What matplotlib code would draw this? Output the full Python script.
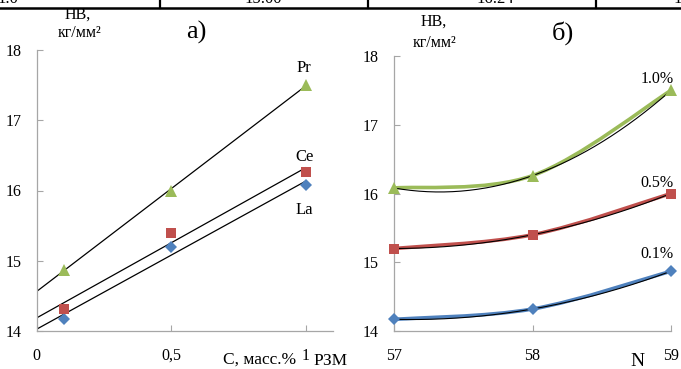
import numpy as np
import matplotlib
matplotlib.use("Agg")
import matplotlib.pyplot as plt
from matplotlib.path import Path
from matplotlib.patches import PathPatch

plt.rcParams['font.family'] = ['Liberation Serif', 'DejaVu Serif']

# Hardness HB (kg/mm^2) vs. rare-earth content, wt.%
conc = [0.1, 0.5, 1.0]
hb_la = [14.17, 15.20, 16.08]
hb_ce = [14.32, 15.40, 16.26]
hb_pr = [14.87, 16.00, 17.50]
elements = ["La", "Ce", "Pr"]

# Atomic number of the rare-earth element
atomic_n = [57, 58, 59]
conc_labels = ["0.1%", "0.5%", "1.0%"]

left_xticks = [0, 0.5, 1]
left_xticklabels = ["0", "0,5", "1"]
yticks = [14, 15, 16, 17, 18]

# Cells of the table row above the charts
table_cells = ["1.0", "15.00", "16.24", "1"]

BLUE, RED, GREEN = "#4F81BD", "#C0504D", "#9BBB59"
SPINE = "#a6a6a6"

W, H = 681, 369
fig = plt.figure(figsize=(W / 100, H / 100), dpi=100)


def fx(px):
    return px / W


def fy(py):
    return 1 - py / H


# table fragment at the top edge
fig.add_artist(plt.Line2D([0, 1], [fy(7.5), fy(7.5)], color="black", lw=1.8,
                          transform=fig.transFigure))
for xv in (159.5, 368, 595.5):
    fig.add_artist(plt.Line2D([fx(xv), fx(xv)], [fy(7.5), 1.0], color="black",
                              lw=1.6, transform=fig.transFigure))
for txt, xc in zip(table_cells, (8, 263, 495, 678)):
    fig.text(fx(xc), fy(3.0), txt, ha="center", va="baseline", fontsize=12)


def style_axes(ax):
    for s in ("top", "right"):
        ax.spines[s].set_visible(False)
    for s in ("left", "bottom"):
        ax.spines[s].set_color(SPINE)
        ax.spines[s].set_linewidth(0.9)
    ax.tick_params(direction="in", length=4, width=0.8, color=SPINE,
                   labelsize=11.5, pad=11)
    ax.set_ylim(14, 18)
    ax.set_yticks(yticks)
    ax.set_yticklabels([str(v) for v in yticks])


# ---- a) linear dependence on content ----
axL = fig.add_axes([fx(36.7), fy(331), fx(332.6) - fx(36.7), fy(50) - fy(331)])
style_axes(axL)
axL.set_xlim(0, 1.1)
axL.set_xticks(left_xticks)
axL.set_xticklabels(left_xticklabels)
axL.tick_params(axis="x", pad=12)

series = [(hb_la, BLUE, "D", 6.0), (hb_ce, RED, "s", 7.5), (hb_pr, GREEN, "^", 8.0)]
xfit = np.array([0.0, 1.0])
for vals, col, mk, ms in series:
    k, b = np.polyfit(conc, vals, 1)
    axL.plot(xfit, k * xfit + b, color="black", lw=0.9, zorder=2)
    axL.plot(conc, vals, ls="none", marker=mk, ms=ms, color=col,
             markeredgewidth=0, zorder=3, clip_on=False)

for name, yv in zip(elements, (15.72, 16.48, 17.74)):
    axL.text(0.995, yv, name, ha="center", va="center", fontsize=12)

fig.text(fx(296), fy(360), "С, масс.%", ha="right", va="center", fontsize=12.5)
fig.text(fx(313), fy(361), "РЗМ", ha="left", va="center", fontsize=12.5)
fig.text(fx(78), fy(15), "HB,", ha="center", va="center", fontsize=11.5)
fig.text(fx(80), fy(33), "кг/мм²", ha="center", va="center", fontsize=11.5)
fig.text(fx(196), fy(32), "а)", ha="center", va="center", fontsize=19)

# ---- б) dependence on atomic number ----
axR = fig.add_axes([fx(394), fy(331), fx(671) - fx(394), fy(56) - fy(331)])
style_axes(axR)
axR.set_xlim(57, 59)
axR.set_xticks(atomic_n)
axR.set_xticklabels([str(v) for v in atomic_n])
axR.tick_params(axis="x", pad=12)


def smooth_path(xs, ys):
    # Catmull-Rom style cubic Bezier through all points
    p = np.column_stack([xs, ys]).astype(float)
    n = len(p)
    verts = [p[0]]
    codes = [Path.MOVETO]
    for i in range(n - 1):
        p0 = p[max(i - 1, 0)]
        p1, p2 = p[i], p[i + 1]
        p3 = p[min(i + 2, n - 1)]
        c1 = p1 + (p2 - p0) / 6
        c2 = p2 - (p3 - p1) / 6
        verts += [c1, c2, p2]
        codes += [Path.CURVE4] * 3
    return Path(verts, codes)


by_conc = [[hb_la[i], hb_ce[i], hb_pr[i]] for i in range(len(conc))]
markers = [("D", BLUE, 6.0), ("s", RED, 7.5), ("^", GREEN, 8.0)]
xs_dense = np.linspace(57, 59, 200)
for vals, (mk, col, ms) in zip(by_conc, markers):
    axR.add_patch(PathPatch(smooth_path(atomic_n, vals), fill=False,
                            edgecolor=col, lw=2.6, zorder=2, capstyle="round"))
    coef = np.polyfit(atomic_n, vals, 2)
    axR.plot(xs_dense, np.polyval(coef, xs_dense), color="black", lw=0.8, zorder=3)
    axR.plot(atomic_n, vals, ls="none", marker=mk, ms=ms, color=col,
             markeredgewidth=0, zorder=4, clip_on=False)

for lab, yv in zip(conc_labels, (15.12, 16.15, 17.67)):
    axR.text(58.9, yv, lab, ha="center", va="center", fontsize=11.5)

fig.text(fx(637), fy(362), "N", ha="center", va="center", fontsize=14)
fig.text(fx(434), fy(22), "HB,", ha="center", va="center", fontsize=11.5)
fig.text(fx(435), fy(43), "кг/мм²", ha="center", va="center", fontsize=11.5)
fig.text(fx(563), fy(33), "б)", ha="center", va="center", fontsize=19)

fig.savefig("out.png", dpi=100)
